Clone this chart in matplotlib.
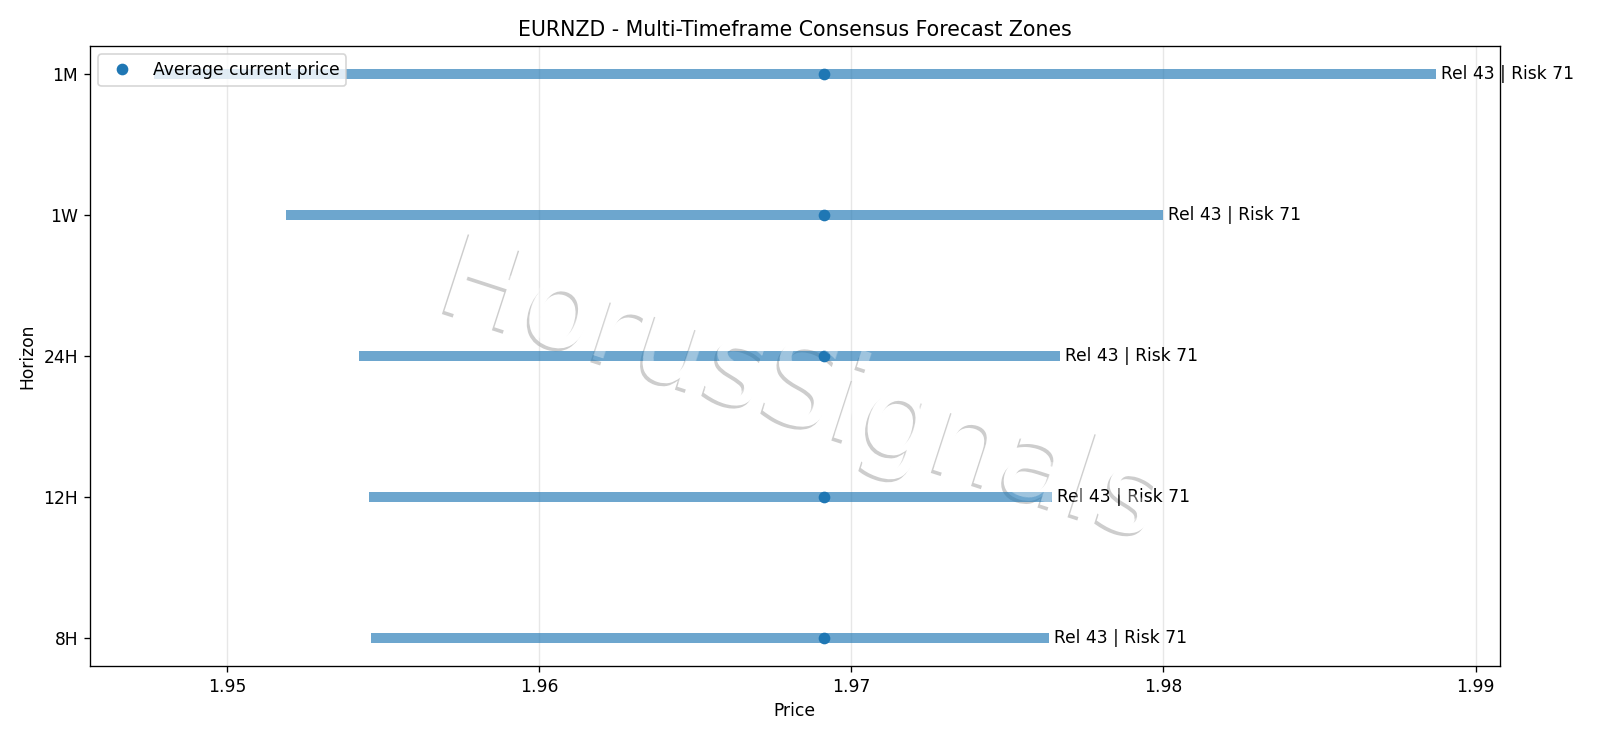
import matplotlib
matplotlib.use("Agg")
import matplotlib.pyplot as plt
import matplotlib.patheffects as pe

horizons = ["8H", "12H", "24H", "1W", "1M"]
zone_low = [1.95461, 1.95454, 1.95422, 1.95190, 1.94765]
zone_high = [1.97634, 1.97644, 1.97670, 1.98000, 1.98873]
current_price = [1.96912, 1.96912, 1.96912, 1.96912, 1.96912]
labels = ["Rel 43 | Risk 71"] * 5

plt.rcParams["font.size"] = 10.25

fig, ax = plt.subplots(figsize=(1600 / 120, 738 / 120), dpi=120)
fig.subplots_adjust(left=0.056, right=0.9375, top=0.938, bottom=0.0976)

y = list(range(len(horizons)))
ax.hlines(y, zone_low, zone_high, linewidth=6, alpha=0.65, color="C0", zorder=2)
ax.plot(current_price, y, "o", color="C0", label="Average current price", zorder=3)
for yi, hi, lab in zip(y, zone_high, labels):
    ax.text(hi + 0.00015, yi, lab, va="center", ha="left", zorder=4)

ax.set_yticks(y)
ax.set_yticklabels(horizons)
ax.set_xlabel("Price")
ax.set_ylabel("Horizon")
ax.set_title("EURNZD - Multi-Timeframe Consensus Forecast Zones")
ax.grid(axis="x", alpha=0.3)
ax.legend(loc="upper left")

# watermark: shadowed white face under the bars, light white veil on top
wm_x, wm_y = 0.504, 0.44
ax.text(wm_x, wm_y, "HorusSignals", transform=ax.transAxes, fontsize=69,
        rotation=-18, ha="center", va="center", color="white", zorder=0.6,
        path_effects=[pe.SimplePatchShadow(offset=(-1.5, -1.8), shadow_rgbFace="#cdcdcd", alpha=1.0),
                      pe.Normal()])
ax.text(wm_x, wm_y, "HorusSignals", transform=ax.transAxes, fontsize=69,
        rotation=-18, ha="center", va="center", color="white", alpha=0.35, zorder=5)

fig.savefig("out.png", dpi=120)
